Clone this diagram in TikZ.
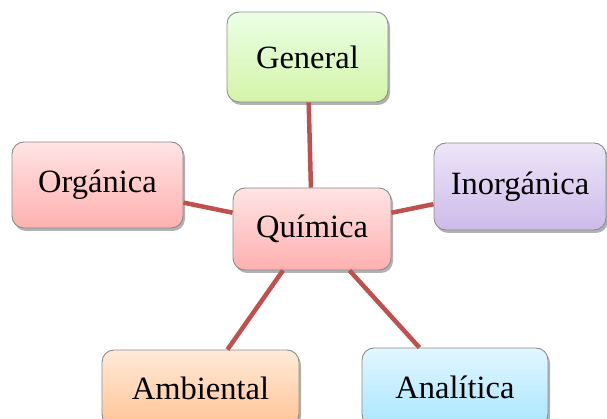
\documentclass[tikz,border=0pt]{standalone}
\usepackage{fontspec}
\setmainfont{Liberation Serif}
\usetikzlibrary{shadows}
\definecolor{edgecol}{HTML}{C0504D}
\begin{document}
\begin{tikzpicture}[x=1pt,y=-1pt,
  box/.style={rounded corners=12pt, draw=black!45, line width=0.9pt,
    inner sep=0pt, font=\fontsize{32.5}{39}\selectfont,
    drop shadow={shadow xshift=2pt, shadow yshift=-3pt, fill=black, opacity=0.3}},
  link/.style={draw=edgecol, line width=4.5pt},
  greenbox/.style={box, top color=green!8!white!98!yellow, bottom color={rgb,255:red,212;green,244;blue,168}},
  redbox/.style={box, top color={rgb,255:red,255;green,228;blue,228}, bottom color={rgb,255:red,255;green,176;blue,176}},
  purplebox/.style={box, top color={rgb,255:red,238;green,230;blue,247}, bottom color={rgb,255:red,204;green,186;blue,234}},
  orangebox/.style={box, top color={rgb,255:red,255;green,234;blue,216}, bottom color={rgb,255:red,255;green,196;blue,150}},
  bluebox/.style={box, top color={rgb,255:red,226;green,246;blue,255}, bottom color={rgb,255:red,170;green,230;blue,255}}
]
\useasboundingbox (0,0) rectangle (607,419);
\node[greenbox, minimum width=161pt, minimum height=90pt] (g) at (307.5,57) {General};
\node[redbox, minimum width=171pt, minimum height=86pt] (o) at (97.5,185) {Orgánica};
\node[purplebox, minimum width=172pt, minimum height=87pt] (i) at (520,186.5) {Inorgánica};
\node[orangebox, minimum width=197pt, minimum height=76pt] (a) at (200.5,388) {Ambiental};
\node[bluebox, minimum width=186pt, minimum height=78pt] (n) at (455,387) {Analítica};
\node[redbox, minimum width=158pt, minimum height=82pt] (q) at (312,229) {Química};
\draw[link] (q) -- (g);
\draw[link] (q) -- (o);
\draw[link] (q) -- (i);
\draw[link] (q) -- (a);
\draw[link] (q) -- (n);
\end{tikzpicture}
\end{document}
